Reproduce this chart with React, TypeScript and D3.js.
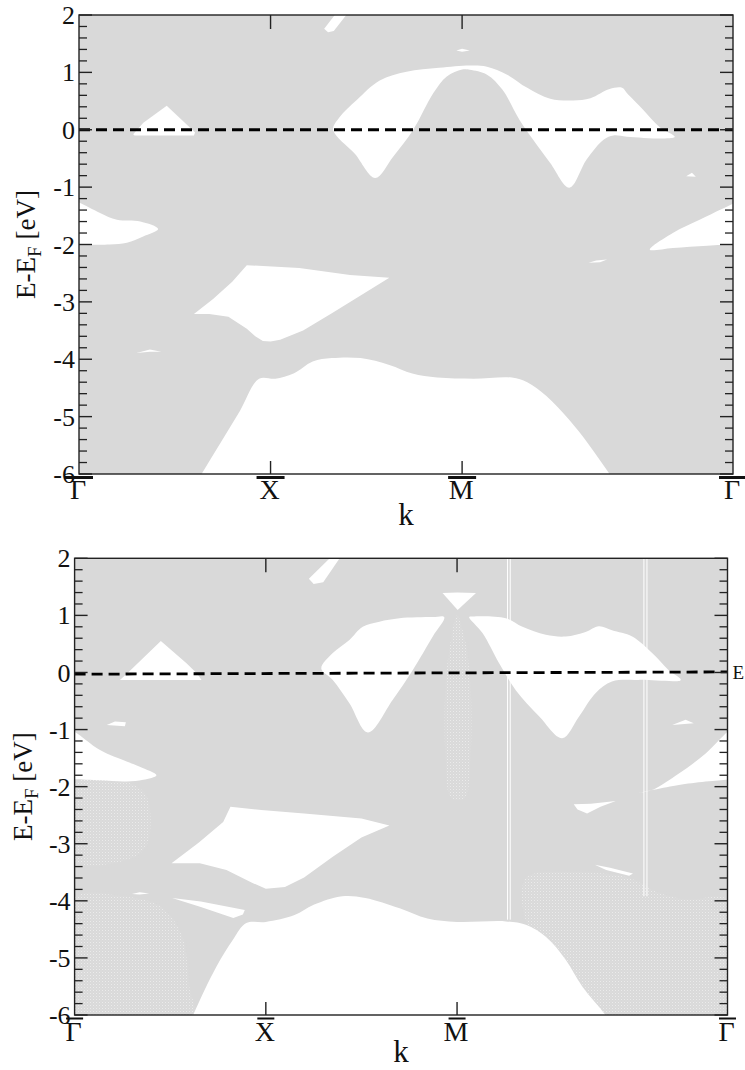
import React from 'react';
import * as d3 from 'd3';

// ---- axis data ----
const kPointNames = ['Γ', 'X', 'M', 'Γ'];
const kPointPos = [0, 1, 2, 2 + Math.SQRT2];
const energyTicks = [-6, -5, -4, -3, -2, -1, 0, 1, 2];
const energyDomain = [-6, 2];

// ---- top panel: band gaps (white regions) as [k, E] outlines ----
const topGapTriangle = [[0.283, -0.08], [0.336, 0.12], [0.458, 0.42], [0.562, 0.09], [0.606, -0.05], [0.60, -0.10], [0.29, -0.10]];
const topGapArc = [[1.546, -0.84], [1.44, -0.42], [1.327, 0.0], [1.36, 0.22], [1.45, 0.52], [1.57, 0.86], [1.71, 1.01], [1.88, 1.08], [2.04, 1.12], [2.13, 1.10], [2.235, 0.96], [2.34, 0.73], [2.46, 0.54], [2.58, 0.51], [2.67, 0.55], [2.77, 0.71], [2.835, 0.73], [2.86, 0.64], [2.945, 0.35], [3.03, 0.05], [3.11, -0.12], [3.07, -0.15], [2.86, -0.12], [2.79, -0.10], [2.74, -0.17], [2.65, -0.52], [2.56, -1.01], [2.46, -0.58], [2.37, -0.17], [2.30, 0.17], [2.21, 0.70], [2.13, 0.96], [2.04, 1.045], [2.0, 1.05], [1.92, 0.93], [1.85, 0.64], [1.745, 0.0], [1.64, -0.47]];
const topGapDot = [[1.97, 1.38], [2.0, 1.41], [2.04, 1.38], [2.0, 1.36]];
const topGapStreak = [[1.28, 1.76], [1.30, 1.70], [1.33, 1.72], [1.40, 2.02], [1.34, 2.02]];
const topGapLeft = [[-0.05, -1.2], [0, -1.27], [0.11, -1.45], [0.198, -1.57], [0.32, -1.60], [0.413, -1.73], [0.335, -1.86], [0.25, -1.97], [0.16, -2.0], [0, -2.0], [-0.05, -2.0]];
const topGapRight = [[3.45, -1.22], [3.414, -1.29], [3.35, -1.39], [3.24, -1.57], [3.10, -1.80], [2.98, -2.09], [3.10, -2.06], [3.28, -2.02], [3.414, -2.0], [3.45, -2.0]];
const topGapSpotA = [[3.17, -0.81], [3.20, -0.75], [3.22, -0.82]];
const topGapSpotB = [[2.66, -2.32], [2.70, -2.28], [2.757, -2.26], [2.72, -2.31]];
const topGapSpotC = [[0.30, -3.89], [0.37, -3.83], [0.43, -3.87], [0.37, -3.87]];
const topGapDiamond = [[0.876, -2.36], [1.15, -2.41], [1.415, -2.53], [1.62, -2.58], [1.47, -2.89], [1.32, -3.2], [1.17, -3.5], [1.05, -3.66], [1.0, -3.69], [0.96, -3.68], [0.92, -3.6], [0.876, -3.47], [0.78, -3.26], [0.68, -3.21], [0.60, -3.21], [0.70, -2.95], [0.80, -2.65]];
const topGapBottom = [[0.55, -6.5], [0.64, -6.0], [0.74, -5.45], [0.84, -4.9], [0.94, -4.34], [1.025, -4.34], [1.12, -4.25], [1.22, -4.04], [1.32, -3.98], [1.47, -3.98], [1.62, -4.10], [1.74, -4.25], [1.87, -4.32], [2.06, -4.34], [2.26, -4.32], [2.34, -4.40], [2.44, -4.64], [2.56, -5.06], [2.66, -5.48], [2.77, -6.0], [2.875, -6.5]];
const topFermi = [[0, 0], [3.414, 0]];

// ---- bottom panel ----
const botGapTriangle = [[0.237, -0.13], [0.28, 0.0], [0.451, 0.55], [0.585, 0.16], [0.64, -0.02], [0.664, -0.13]];
const botGapSliverA = [[0.168, -0.92], [0.211, -0.86], [0.268, -0.87], [0.263, -0.94]];
const botGapLeft = [[-0.05, -0.95], [0, -1.04], [0.133, -1.36], [0.272, -1.56], [0.341, -1.65], [0.428, -1.80], [0.359, -1.88], [0.272, -1.91], [0.133, -1.89], [0, -1.87], [-0.05, -1.87]];
const botGapStreak = [[1.225, 1.64], [1.25, 1.55], [1.30, 1.58], [1.39, 2.02], [1.34, 2.02]];
const botGapTriM = [[1.924, 1.39], [2.003, 1.095], [2.099, 1.39], [2.0, 1.40]];
const botGapArcL = [[1.29, 0.07], [1.35, 0.34], [1.437, 0.57], [1.507, 0.80], [1.594, 0.89], [1.699, 0.95], [1.873, 0.97], [1.933, 0.97], [1.873, 0.63], [1.768, 0.04], [1.663, -0.48], [1.533, -1.05], [1.437, -0.54], [1.35, -0.13]];
const botGapArcR = [[2.063, 0.97], [2.133, 0.69], [2.22, 0.16], [2.307, -0.31], [2.43, -0.77], [2.55, -1.15], [2.638, -0.77], [2.725, -0.36], [2.81, -0.16], [2.95, -0.13], [3.17, -0.13], [3.107, 0.04], [3.02, 0.34], [2.916, 0.63], [2.81, 0.74], [2.742, 0.81], [2.672, 0.71], [2.568, 0.63], [2.464, 0.66], [2.342, 0.80], [2.255, 0.95], [2.08, 0.98]];
const botGapSpotR = [[3.125, -0.92], [3.195, -0.83], [3.238, -0.89]];
const botGapRight = [[3.45, -0.95], [3.414, -1.04], [3.30, -1.42], [3.16, -1.77], [3.02, -2.06], [2.95, -2.11], [3.16, -1.97], [3.414, -1.88], [3.45, -1.88]];
const botGapSliverB = [[2.61, -2.31], [2.70, -2.30], [2.83, -2.25], [2.75, -2.35], [2.68, -2.47], [2.63, -2.40]];
const botGapSliverC = [[2.72, -3.37], [2.80, -3.42], [2.92, -3.52], [2.90, -3.56], [2.78, -3.46]];
const botGapDiamond = [[0.815, -2.35], [0.976, -2.41], [1.2, -2.47], [1.5, -2.56], [1.646, -2.68], [1.5, -2.89], [1.35, -3.23], [1.2, -3.59], [1.1, -3.76], [1.0, -3.79], [0.933, -3.69], [0.794, -3.46], [0.655, -3.34], [0.507, -3.34], [0.65, -2.98], [0.777, -2.62]];
const botGapSliverD = [[0.51, -3.95], [0.66, -4.01], [0.89, -4.16], [0.88, -4.24], [0.83, -4.30], [0.66, -4.11]];
const botGapSliverE = [[0.30, -3.88], [0.34, -3.85], [0.39, -3.87], [0.34, -3.89]];
const botGapBottom = [[0.56, -6.5], [0.62, -6.0], [0.742, -5.15], [0.828, -4.68], [0.898, -4.39], [1.0, -4.37], [1.15, -4.25], [1.25, -4.07], [1.40, -3.92], [1.52, -3.95], [1.70, -4.13], [1.845, -4.31], [2.0, -4.37], [2.255, -4.36], [2.36, -4.42], [2.464, -4.63], [2.568, -5.03], [2.655, -5.50], [2.776, -6.0], [2.88, -6.5]];
// speckled (lighter, dotted) regions of the projected bands
const botTexLowLeftA = [[0, -1.95], [0.3, -1.95], [0.38, -2.2], [0.38, -3.0], [0.3, -3.25], [0, -3.3]];
const botTexLowLeftB = [[0, -3.95], [0.25, -3.92], [0.45, -4.1], [0.56, -4.6], [0.6, -5.5], [0.62, -6.05], [0, -6.05]];
const botTexLowRight = [[2.36, -3.6], [2.6, -3.5], [2.9, -3.6], [3.05, -3.85], [3.2, -3.98], [3.414, -3.98], [3.414, -6.05], [2.78, -6.05], [2.66, -5.5], [2.57, -5.03], [2.46, -4.6], [2.37, -4.42]];
const botTexM = [[2.0, 1.0], [2.04, 0.6], [2.07, -0.2], [2.07, -1.5], [2.04, -2.2], [1.97, -2.2], [1.94, -1.5], [1.94, -0.2], [1.97, 0.6]];
// thin white vertical artefact lines: [k, Etop, Ebottom]
const botWhiteLines = [[2.264, 2, -4.33], [2.278, 2, -4.33], [2.977, 2, -3.92], [2.993, 2, -3.92]];
const botFermi = [[0, -0.03], [3.414, 0.01]];

// [outline, smooth?]
const topGaps: [number[][], boolean][] = [[topGapTriangle, false], [topGapArc, true], [topGapDot, false], [topGapStreak, false], [topGapLeft, true], [topGapRight, true], [topGapSpotA, false], [topGapSpotB, false], [topGapSpotC, false], [topGapDiamond, false], [topGapBottom, true]];
const botGaps: [number[][], boolean][] = [[botGapTriangle, false], [botGapSliverA, false], [botGapLeft, true], [botGapStreak, false], [botGapTriM, false], [botGapArcL, true], [botGapArcR, true], [botGapSpotR, false], [botGapRight, true], [botGapSliverB, false], [botGapSliverC, false], [botGapDiamond, false], [botGapSliverD, false], [botGapSliverE, false], [botGapBottom, true]];
const botTextures = [botTexLowLeftA, botTexLowLeftB, botTexLowRight, botTexM];

const FONT = 'Liberation Serif, Times New Roman, serif';
const GRAY = '#d9d9d9';

type Layout = { x0: number; x1: number; y0: number; y1: number; bar: number; barW: number; barH: number; letterY: number; kY: number; titleX: number };

function Panel({ id, L, gaps, textures, fermi, whiteLines, rightE }: { id: string; L: Layout; gaps: [number[][], boolean][]; textures: number[][][]; fermi: number[][]; whiteLines: number[][]; rightE: boolean }) {
  const x = d3.scaleLinear().domain([0, kPointPos[3]]).range([L.x0, L.x1]);
  const y = d3.scaleLinear().domain(energyDomain).range([L.y1, L.y0]);
  const smooth = d3.line<number[]>().x(d => x(d[0])).y(d => y(d[1])).curve(d3.curveCatmullRomClosed.alpha(0.5));
  const poly = d3.line<number[]>().x(d => x(d[0])).y(d => y(d[1])).curve(d3.curveLinearClosed);
  const open = d3.line<number[]>().x(d => x(d[0])).y(d => y(d[1]));
  const minor = d3.range(-6, 2.0001, 0.2).filter(v => Math.abs(v - Math.round(v)) > 0.01);
  const stroke = '#222';
  const midY = (L.y0 + L.y1) / 2;
  return (
    <g>
      <defs>
        <clipPath id={id}>
          <rect x={L.x0} y={L.y0} width={L.x1 - L.x0} height={L.y1 - L.y0} />
        </clipPath>
        <pattern id={id + 'tex'} width={3} height={3} patternUnits="userSpaceOnUse">
          <rect width={3} height={3} fill={GRAY} />
          <rect width={1} height={1} fill="#ebebeb" />
          <rect x={1.5} y={1.5} width={1} height={1} fill="#e3e3e3" />
        </pattern>
      </defs>
      <g clipPath={`url(#${id})`}>
        <rect x={L.x0} y={L.y0} width={L.x1 - L.x0} height={L.y1 - L.y0} fill={GRAY} />
        {textures.map((t, i) => <path key={'t' + i} d={smooth(t) || ''} fill={`url(#${id}tex)`} />)}
        {gaps.map(([g, s], i) => <path key={i} d={(s ? smooth(g) : poly(g)) || ''} fill="#fff" />)}
        {whiteLines.map((w, i) => (
          <line key={i} x1={x(w[0])} x2={x(w[0])} y1={y(w[1])} y2={y(w[2])} stroke="#fff" strokeWidth={1} />
        ))}
        <path d={open(fermi) || ''} fill="none" stroke="#000" strokeWidth={2.8} strokeDasharray="11,6" />
      </g>
      <rect x={L.x0} y={L.y0} width={L.x1 - L.x0} height={L.y1 - L.y0} fill="none" stroke={stroke} strokeWidth={1.4} />
      {energyTicks.map(v => (
        <g key={v}>
          <line x1={L.x0} x2={L.x0 + 13} y1={y(v)} y2={y(v)} stroke={stroke} strokeWidth={1.4} />
          <line x1={L.x1} x2={L.x1 - 13} y1={y(v)} y2={y(v)} stroke={stroke} strokeWidth={1.4} />
          <text x={L.x0 - 4} y={y(v)} dy="0.35em" textAnchor="end" fontFamily={FONT} fontSize={26} fill="#111">{v}</text>
        </g>
      ))}
      {minor.map((v, i) => (
        <g key={i}>
          <line x1={L.x0} x2={L.x0 + 8} y1={y(v)} y2={y(v)} stroke={stroke} strokeWidth={1.3} />
          <line x1={L.x1} x2={L.x1 - 8} y1={y(v)} y2={y(v)} stroke={stroke} strokeWidth={1.3} />
        </g>
      ))}
      {kPointPos.slice(1, 3).map((k, i) => (
        <g key={i}>
          <line x1={x(k)} x2={x(k)} y1={L.y0} y2={L.y0 + 14} stroke={stroke} strokeWidth={1.4} />
          <line x1={x(k)} x2={x(k)} y1={L.y1} y2={L.y1 - 13} stroke={stroke} strokeWidth={1.4} />
        </g>
      ))}
      {kPointPos.map((k, i) => (
        <g key={'l' + i}>
          <rect x={x(k) - L.barW / 2} y={L.bar} width={L.barW} height={L.barH} fill="#111" />
          <text x={x(k) - 1} y={L.letterY} textAnchor="middle" fontFamily={FONT} fontSize={28} fill="#111">{kPointNames[i]}</text>
        </g>
      ))}
      <text x={(L.x0 + L.x1) / 2} y={L.kY} textAnchor="middle" fontFamily={FONT} fontSize={31} fill="#111">k</text>
      <text transform={`translate(${L.titleX},${midY}) rotate(-90)`} textAnchor="middle" fontFamily={FONT} fontSize={27} fill="#111">
        E-E<tspan fontSize={19} dy="6">F</tspan><tspan dy="-6"> [eV]</tspan>
      </text>
      {rightE && (
        <text x={L.x1 + 5} y={y(0)} dy="0.35em" fontFamily={FONT} fontSize={19} fill="#111">E</text>
      )}
    </g>
  );
}

const topLayout: Layout = { x0: 79, x1: 733, y0: 15, y1: 474, bar: 476, barW: 28, barH: 3, letterY: 499, kY: 525, titleX: 35 };
const botLayout: Layout = { x0: 74.6, x1: 727.5, y0: 558.3, y1: 1015, bar: 1017.5, barW: 17, barH: 2, letterY: 1041, kY: 1062, titleX: 32 };

export default function App() {
  return (
    <svg width={745} height={1070} style={{ position: 'absolute', left: 0, top: 0, background: '#fff' }}>
      <rect width={745} height={1070} fill="#fff" />
      <Panel id="clipTop" L={topLayout} gaps={topGaps} textures={[]} fermi={topFermi} whiteLines={[]} rightE={false} />
      <Panel id="clipBot" L={botLayout} gaps={botGaps} textures={botTextures} fermi={botFermi} whiteLines={botWhiteLines} rightE={true} />
    </svg>
  );
}
